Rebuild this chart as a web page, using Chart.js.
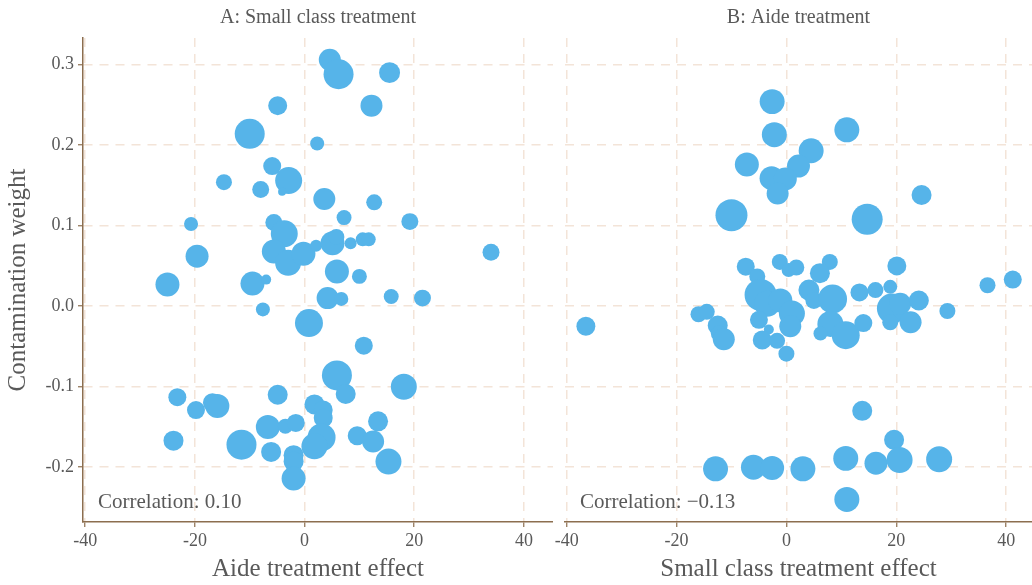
<!DOCTYPE html>
<html>
<head>
<meta charset="utf-8">
<script src="https://cdn.jsdelivr.net/npm/chart.js@4.4.1/dist/chart.umd.min.js"></script>
<style>
  body { margin: 0; background: #fff; }
  #wrap { position: relative; width: 1032px; height: 585px; }
  canvas { position: absolute; top: 0; }
</style>
</head>
<body>
<div id="wrap">
  <canvas id="panelA" width="553" height="585" style="left:0"></canvas>
  <canvas id="panelB" width="479" height="585" style="left:553px"></canvas>
</div>
<script>
// === DADOS ===
const xTicks = [-40, -20, 0, 20, 40];
const yTicks = [-0.2, -0.1, 0.0, 0.1, 0.2, 0.3];

// painel A: efeito do aide (x) x peso de contaminação (y), tamanho da bolha
const xA = [4.6, 6.2, 15.5, -4.9, 12.2, -10.0, 2.3, -5.9, -2.9, -14.7, -8.0, -4.1, 3.6, 12.7, 7.2, -20.7, 19.2, -5.6, -3.7,
  -19.6, -25.0, -9.5, -7.0, -5.6, -3.0, -0.2, 2.1, 5.1, 5.8, 8.4, 10.6, 11.7, 5.9, 10.0, 34.0,
  4.2, 6.7, 15.8, 21.5, -7.6, 0.8, 10.8, 5.9, 18.1, 7.5, -23.2, -4.9, -19.8, -16.8, -15.9,
  1.8, 3.4, 3.4, 13.4, -6.7, -3.5, -1.6, -23.9, -11.5, 3.1, 1.8, 9.6, 12.5, -6.1, -2.0, -2.0, 15.3, -2.0];
const yA = [0.306, 0.288, 0.290, 0.249, 0.249, 0.214, 0.202, 0.174, 0.156, 0.154, 0.145, 0.142, 0.133, 0.129, 0.110, 0.102, 0.105, 0.104, 0.090,
  0.062, 0.027, 0.028, 0.033, 0.068, 0.054, 0.065, 0.075, 0.078, 0.086, 0.078, 0.083, 0.083, 0.043, 0.037, 0.067,
  0.010, 0.009, 0.012, 0.010, -0.004, -0.021, -0.049, -0.086, -0.100, -0.109, -0.113, -0.110, -0.129, -0.120, -0.124,
  -0.122, -0.129, -0.139, -0.143, -0.150, -0.149, -0.145, -0.167, -0.172, -0.163, -0.174, -0.161, -0.168, -0.181, -0.185, -0.193, -0.193, -0.214];
const nA = [121, 225, 110, 90, 121, 225, 49, 81, 182, 64, 72, 16, 121, 64, 56, 49, 72, 72, 182,
  132, 144, 144, 25, 144, 169, 144, 36, 144, 64, 36, 49, 49, 144, 56, 72,
  121, 49, 56, 72, 49, 196, 81, 225, 169, 100, 81, 100, 81, 90, 144,
  100, 90, 90, 100, 144, 56, 81, 100, 225, 196, 169, 90, 121, 100, 100, 100, 169, 144];

// painel B: efeito de turma pequena (x) x peso de contaminação (y)
const xB = [-2.6, -2.2, 11.0, -7.2, 4.5, 2.2, -2.7, -0.2, -1.6, -10.0, 14.7, 24.6,
  -7.4, -5.3, -1.2, 0.4, 1.8, 7.9, 6.1, 20.1, 36.6, 41.2,
  -36.5, -16.0, -14.5, -12.5, -12.3, -11.4, -4.7, -3.5, -1.1, 1.0, 0.7, -5.0, -3.2, -4.4, -1.7, 0.0,
  4.1, 5.0, 8.4, 8.0, 10.8, 6.2, 14.0, 13.3, 16.2, 18.9, 19.2, 18.9, 20.7, 22.6, 24.1, 29.3,
  13.8, 19.6, 10.8, 16.3, 20.6, 27.8, -12.9, -6.0, -2.6, 3.0, 11.0];
const yB = [0.254, 0.213, 0.219, 0.176, 0.193, 0.174, 0.159, 0.158, 0.140, 0.113, 0.108, 0.138,
  0.049, 0.037, 0.055, 0.045, 0.048, 0.055, 0.041, 0.050, 0.026, 0.033,
  -0.025, -0.010, -0.007, -0.024, -0.034, -0.041, 0.014, 0.003, 0.007, -0.009, -0.025, -0.017, -0.029, -0.042, -0.043, -0.059,
  0.020, 0.007, 0.009, -0.022, -0.036, -0.034, -0.021, 0.017, 0.020, 0.024, -0.003, -0.020, 0.003, -0.020, 0.007, -0.006,
  -0.130, -0.166, -0.189, -0.195, -0.191, -0.190, -0.202, -0.200, -0.201, -0.202, -0.240];
const nB = [156, 156, 156, 144, 156, 132, 144, 132, 121, 256, 240, 100,
  81, 64, 64, 49, 64, 64, 100, 90, 64, 81,
  90, 64, 64, 100, 64, 121, 256, 169, 144, 169, 121, 81, 25, 90, 64, 64,
  110, 72, 210, 169, 196, 49, 81, 81, 64, 49, 225, 64, 121, 121, 100, 64,
  100, 100, 156, 132, 169, 169, 156, 156, 144, 156, 156];

const corrA = 0.10;
const corrB = -0.13;

// === ESTILO ===
const azul = '#56B4E9';
const corTexto = '#595959';
const corEixo = '#8c6e4f';
const corGrade = '#f3e4d8';
const fonte = "'Liberation Serif', serif";

function pontos(xs, ys, ns) {
  return xs.map((x, i) => ({ x: x, y: ys[i], r: Math.sqrt(ns[i]) }));
}

// desenha título do painel e a correlação
const textosPainel = {
  id: 'textosPainel',
  afterDraw(chart, args, opts) {
    const { ctx, chartArea } = chart;
    ctx.save();
    ctx.fillStyle = corTexto;
    ctx.textBaseline = 'middle';
    ctx.font = "20px " + fonte;
    ctx.textAlign = 'center';
    ctx.fillText(opts.titulo, (chartArea.left + chartArea.right) / 2, 18);
    ctx.font = "21px " + fonte;
    ctx.textAlign = 'left';
    ctx.fillText(opts.corr, chartArea.left + 15, chartArea.bottom - 20);
    ctx.restore();
  }
};

function eixoX(titulo, min, max) {
  return {
    type: 'linear', min: min, max: max,
    afterBuildTicks: s => { s.ticks = xTicks.map(v => ({ value: v })); },
    afterFit: s => { s.height = 63; s.paddingLeft = 0; s.paddingRight = 0; },
    grid: { color: corGrade, lineWidth: 1.5, tickColor: corEixo, tickLength: 5, tickWidth: 1.2, tickBorderDash: [] },
    border: { color: corEixo, width: 1.5, dash: [9, 7] },
    ticks: { color: corTexto, font: { family: fonte, size: 18 }, padding: 3, callback: v => String(v).replace('−', '-') },
    title: { display: true, text: titulo, color: corTexto, font: { family: fonte, size: 25 }, padding: { top: 0, bottom: 1 } }
  };
}

const eixoY = {
  type: 'linear', min: -0.268, max: 0.333,
  afterBuildTicks: s => { s.ticks = yTicks.map(v => ({ value: v })); },
  afterFit: s => { s.width = 83; },
  grid: { color: corGrade, lineWidth: 1.5, tickColor: corEixo, tickLength: 5, tickWidth: 1.2, tickBorderDash: [] },
  border: { color: corEixo, width: 1.5, dash: [9, 7] },
  ticks: { color: corTexto, font: { family: fonte, size: 18 }, padding: 4, callback: v => v.toFixed(1) },
  title: { display: true, text: 'Contamination weight', color: corTexto, font: { family: fonte, size: 25 }, padding: { top: 3, bottom: 0 } }
};

const eixoYOculto = {
  type: 'linear', min: -0.268, max: 0.333,
  afterBuildTicks: s => { s.ticks = yTicks.map(v => ({ value: v })); },
  afterFit: s => { s.width = 0; },
  grid: { color: corGrade, lineWidth: 1.5, drawTicks: false },
  border: { display: false, dash: [9, 7] },
  ticks: { display: false }
};

function criarPainel(id, dados, xTitulo, xMin, xMax, yEixo, titulo, corr, pad) {
  return new Chart(document.getElementById(id), {
    type: 'bubble',
    data: {
      datasets: [{
        data: dados,
        backgroundColor: azul,
        borderWidth: 0,
        hoverBackgroundColor: azul,
        clip: false
      }]
    },
    options: {
      responsive: false,
      animation: false,
      devicePixelRatio: 1,
      layout: { padding: pad, autoPadding: false },
      plugins: {
        legend: { display: false },
        tooltip: { enabled: false },
        textosPainel: { titulo: titulo, corr: corr }
      },
      scales: {
        x: eixoX(xTitulo, xMin, xMax),
        y: yEixo
      }
    },
    plugins: [textosPainel]
  });
}

criarPainel('panelA', pontos(xA, yA, nA), 'Aide treatment effect', -40.4, 45.3, eixoY,
  'A: Small class treatment', 'Correlation: ' + corrA.toFixed(2), { top: 38, left: 0, right: 0, bottom: 0 });
criarPainel('panelB', pontos(xB, yB, nB), 'Small class treatment effect', -40.3, 44.7, eixoYOculto,
  'B: Aide treatment', 'Correlation: \u2212' + Math.abs(corrB).toFixed(2), { top: 38, left: 12, right: 0, bottom: 0 });
</script>
</body>
</html>
